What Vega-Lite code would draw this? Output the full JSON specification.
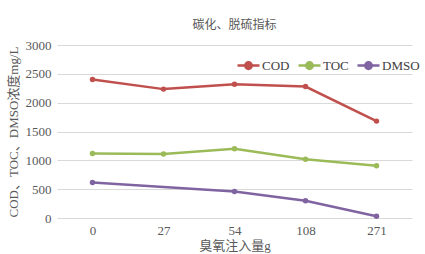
{
  "$schema": "https://vega.github.io/schema/vega-lite/v6.json",
  "autosize": {"type": "none"},
  "width": 355,
  "height": 173,
  "padding": {"left": 57, "top": 45, "right": 13, "bottom": 36},
  "background": "white",
  "title": {
    "text": "碳化、脱硫指标",
    "fontSize": 12,
    "fontWeight": "normal",
    "color": "#595959",
    "anchor": "middle",
    "offset": 0,
    "dy": -7
  },
  "data": {
    "values": [
      {"dose": "0", "series": "COD", "value": 2400},
      {"dose": "27", "series": "COD", "value": 2235},
      {"dose": "54", "series": "COD", "value": 2320},
      {"dose": "108", "series": "COD", "value": 2280},
      {"dose": "271", "series": "COD", "value": 1680},
      {"dose": "0", "series": "TOC", "value": 1120},
      {"dose": "27", "series": "TOC", "value": 1110},
      {"dose": "54", "series": "TOC", "value": 1200},
      {"dose": "108", "series": "TOC", "value": 1020},
      {"dose": "271", "series": "TOC", "value": 905},
      {"dose": "0", "series": "DMSO", "value": 615},
      {"dose": "54", "series": "DMSO", "value": 460},
      {"dose": "108", "series": "DMSO", "value": 300},
      {"dose": "271", "series": "DMSO", "value": 30}
    ]
  },
  "mark": {"type": "line", "strokeWidth": 2.5, "point": {"filled": true, "size": 30}},
  "encoding": {
    "x": {
      "field": "dose",
      "type": "ordinal",
      "sort": ["0", "27", "54", "108", "271"],
      "scale": {"type": "point", "padding": 0.5},
      "axis": {
        "title": "臭氧注入量g",
        "labelAngle": 0,
        "domain": false,
        "ticks": false,
        "labelPadding": 6,
        "titlePadding": 2
      }
    },
    "y": {
      "field": "value",
      "type": "quantitative",
      "scale": {"domain": [0, 3000]},
      "axis": {
        "title": "COD、TOC、DMSO浓度mg/L",
        "values": [0, 500, 1000, 1500, 2000, 2500, 3000],
        "format": "d",
        "domain": false,
        "ticks": false,
        "grid": true,
        "gridColor": "#d9d9d9",
        "gridWidth": 1,
        "labelPadding": 6,
        "titlePadding": 5
      }
    },
    "color": {
      "field": "series",
      "type": "nominal",
      "sort": ["COD", "TOC", "DMSO"],
      "scale": {"domain": ["COD", "TOC", "DMSO"], "range": ["#C0504D", "#9BBB59", "#8064A2"]},
      "legend": {
        "title": null,
        "orient": "none",
        "direction": "horizontal",
        "legendX": 179,
        "legendY": 8,
        "symbolType": "M-1,0H1M-0.3,0A0.3,0.3 0 1,0 0.3,0A0.3,0.3 0 1,0 -0.3,0",
        "symbolSize": 484,
        "symbolStrokeWidth": 2.5,
        "labelFontSize": 13,
        "labelColor": "#404040",
        "labelOffset": 1,
        "columnPadding": 3,
        "encode": {
          "symbols": {"update": {"fill": {"scale": "color", "field": "value"}}}
        }
      }
    }
  },
  "config": {
    "font": "Liberation Serif, Noto Sans CJK SC",
    "view": {"stroke": null},
    "axis": {
      "labelFont": "Liberation Serif",
      "titleFont": "Liberation Serif, Noto Sans CJK SC",
      "labelFontSize": 13,
      "titleFontSize": 13,
      "titleFontWeight": "normal",
      "labelColor": "#595959",
      "titleColor": "#595959"
    },
    "legend": {"labelFont": "Liberation Serif, Noto Sans CJK SC"},
    "title": {"font": "Liberation Serif, Noto Sans CJK SC"}
  }
}
